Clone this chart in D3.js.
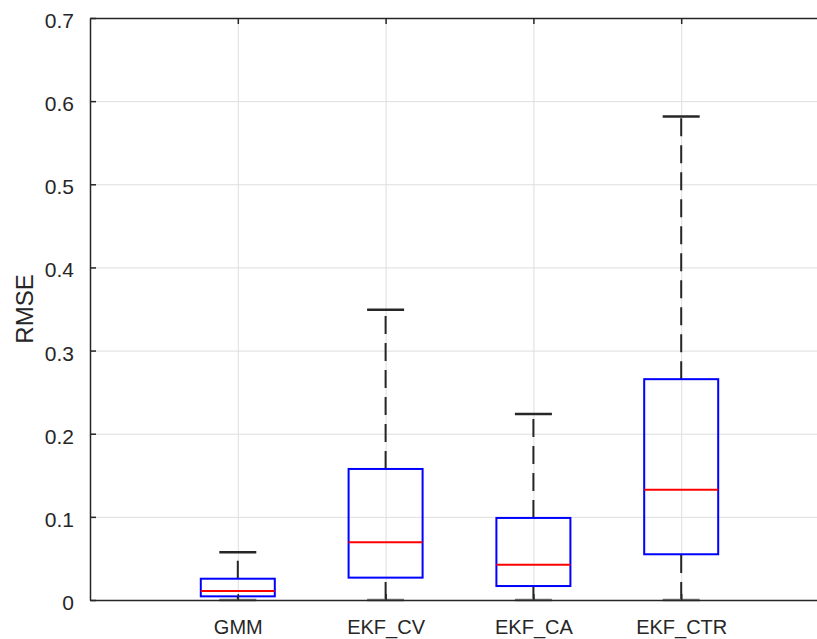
<!DOCTYPE html>
<html>
<head>
<meta charset="utf-8">
<script src="https://cdn.jsdelivr.net/npm/d3@7.9.0/dist/d3.min.js"></script>
<style>
  body { margin: 0; background: #fff; }
  svg { display: block; font-family: "Liberation Sans", Arial, sans-serif; }
</style>
</head>
<body>
<div id="chart"></div>
<script>
const categories = ['GMM', 'EKF_CV', 'EKF_CA', 'EKF_CTR'];
const lowerWhisker = [0, 0, 0, 0];
const q1 = [0.0044, 0.0269, 0.0168, 0.055];
const medians = [0.0108, 0.0694, 0.0425, 0.1327];
const q3 = [0.0256, 0.1576, 0.0987, 0.2656];
const upperWhisker = [0.0574, 0.349, 0.2238, 0.5816];
const yTicks = [0, 0.1, 0.2, 0.3, 0.4, 0.5, 0.6, 0.7];

const width = 817;
const height = 639;

const area = { left: 90, right: 829, top: 18, bottom: 600 };

const boxes = categories.map((name, i) => ({
  name,
  pos: i + 1,
  lo: lowerWhisker[i],
  q1: q1[i],
  med: medians[i],
  q3: q3[i],
  hi: upperWhisker[i],
}));

const svg = d3
  .select('#chart')
  .append('svg')
  .attr('width', width)
  .attr('height', height);

// SCALES

const xScale = d3
  .scaleLinear()
  .domain([0, 5])
  .range([area.left, area.right]);

const yScale = d3
  .scaleLinear()
  .domain([0, 0.7])
  .range([area.bottom, area.top]);

const boxHalf = 37;
const capHalf = 18.5;
const ink = '#262626';

// GRIDLINES

svg
  .append('g')
  .attr('class', 'gridlines')
  .attr('transform', `translate(${area.left},0)`)
  .call(
    d3.axisLeft(yScale)
      .tickValues(yTicks)
      .tickFormat('')
      .tickSize(-(area.right - area.left))
  )
  .call((g) => g.select('.domain').remove())
  .call((g) => g.selectAll('line').attr('stroke', '#dedede').attr('stroke-width', 1));

svg
  .append('g')
  .attr('class', 'gridlines')
  .attr('transform', `translate(0,${area.bottom})`)
  .call(
    d3.axisBottom(xScale)
      .tickValues(boxes.map((d) => d.pos))
      .tickFormat('')
      .tickSize(-(area.bottom - area.top))
  )
  .call((g) => g.select('.domain').remove())
  .call((g) => g.selectAll('line').attr('stroke', '#dedede').attr('stroke-width', 1));

// BOXES

const gBox = svg.append('g').attr('class', 'boxes');

// whiskers
gBox.selectAll('line.upper')
  .data(boxes)
  .join('line')
  .attr('class', 'upper')
  .attr('x1', (d) => xScale(d.pos))
  .attr('x2', (d) => xScale(d.pos))
  .attr('y1', (d) => yScale(d.q3))
  .attr('y2', (d) => yScale(d.hi))
  .attr('stroke', ink)
  .attr('stroke-width', 2)
  .attr('stroke-dasharray', '18 9');

gBox.selectAll('line.lower')
  .data(boxes)
  .join('line')
  .attr('class', 'lower')
  .attr('x1', (d) => xScale(d.pos))
  .attr('x2', (d) => xScale(d.pos))
  .attr('y1', (d) => yScale(d.lo))
  .attr('y2', (d) => yScale(d.q1))
  .attr('stroke', ink)
  .attr('stroke-width', 2)
  .attr('stroke-dasharray', '18 9');

// caps
gBox.selectAll('line.capHi')
  .data(boxes)
  .join('line')
  .attr('class', 'capHi')
  .attr('x1', (d) => xScale(d.pos) - capHalf)
  .attr('x2', (d) => xScale(d.pos) + capHalf)
  .attr('y1', (d) => yScale(d.hi))
  .attr('y2', (d) => yScale(d.hi))
  .attr('stroke', ink)
  .attr('stroke-width', 2.5);

gBox.selectAll('line.capLo')
  .data(boxes)
  .join('line')
  .attr('class', 'capLo')
  .attr('x1', (d) => xScale(d.pos) - capHalf)
  .attr('x2', (d) => xScale(d.pos) + capHalf)
  .attr('y1', (d) => yScale(d.lo))
  .attr('y2', (d) => yScale(d.lo))
  .attr('stroke', '#777')
  .attr('stroke-width', 2.5);

// box rectangles
gBox.selectAll('rect')
  .data(boxes)
  .join('rect')
  .attr('x', (d) => xScale(d.pos) - boxHalf)
  .attr('y', (d) => yScale(d.q3))
  .attr('width', boxHalf * 2)
  .attr('height', (d) => yScale(d.q1) - yScale(d.q3))
  .attr('fill', 'none')
  .attr('stroke', '#0000ff')
  .attr('stroke-width', 2);

// medians
gBox.selectAll('line.median')
  .data(boxes)
  .join('line')
  .attr('class', 'median')
  .attr('x1', (d) => xScale(d.pos) - boxHalf)
  .attr('x2', (d) => xScale(d.pos) + boxHalf)
  .attr('y1', (d) => yScale(d.med))
  .attr('y2', (d) => yScale(d.med))
  .attr('stroke', '#ff0000')
  .attr('stroke-width', 2);

// AXES

const yAxis = d3.axisLeft(yScale)
  .tickValues(yTicks)
  .tickFormat((d) => (d === 0 ? '0' : d3.format('.1f')(d)))
  .tickSizeInner(-6)
  .tickSizeOuter(0)
  .tickPadding(16);

svg.append('g')
  .attr('transform', `translate(${area.left},0)`)
  .call(yAxis)
  .call((g) => g.select('.domain').attr('stroke', ink).attr('stroke-width', 1.5))
  .call((g) => g.selectAll('line').attr('stroke', ink).attr('stroke-width', 1.5))
  .call((g) => g.selectAll('text')
    .attr('fill', ink)
    .attr('font-size', 21)
    .attr('dy', '0.45em'));

const xAxis = d3.axisBottom(xScale)
  .tickValues(boxes.map((d) => d.pos))
  .tickFormat((d) => categories[d - 1])
  .tickSizeInner(-6)
  .tickSizeOuter(0)
  .tickPadding(20);

svg.append('g')
  .attr('transform', `translate(0,${area.bottom})`)
  .call(xAxis)
  .call((g) => g.select('.domain').attr('stroke', ink).attr('stroke-width', 1.5))
  .call((g) => g.selectAll('line').attr('stroke', ink).attr('stroke-width', 1.5))
  .call((g) => g.selectAll('text')
    .attr('fill', ink)
    .attr('font-size', 20));

// top and right frame

svg.append('g')
  .attr('transform', `translate(0,${area.top})`)
  .call(
    d3.axisTop(xScale)
      .tickValues(boxes.map((d) => d.pos))
      .tickFormat('')
      .tickSizeInner(-6)
      .tickSizeOuter(0)
  )
  .call((g) => g.select('.domain').attr('stroke', ink).attr('stroke-width', 1.5))
  .call((g) => g.selectAll('line').attr('stroke', ink).attr('stroke-width', 1.5));

svg.append('g')
  .attr('transform', `translate(${area.right},0)`)
  .call(
    d3.axisRight(yScale)
      .tickValues(yTicks)
      .tickFormat('')
      .tickSizeInner(-6)
      .tickSizeOuter(0)
  )
  .call((g) => g.select('.domain').attr('stroke', ink).attr('stroke-width', 1.5))
  .call((g) => g.selectAll('line').attr('stroke', ink).attr('stroke-width', 1.5));

// Y LABEL

svg.append('text')
  .attr('transform', `translate(33,${yScale(0.35)}) rotate(-90)`)
  .attr('text-anchor', 'middle')
  .attr('fill', ink)
  .attr('font-size', 24)
  .text('RMSE');
</script>
</body>
</html>
